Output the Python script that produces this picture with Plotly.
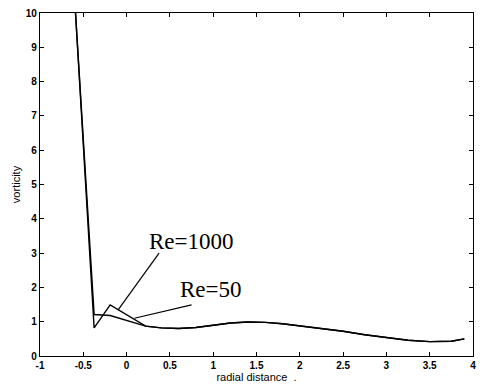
import plotly.graph_objects as go

# Data
re1000_x = [-0.59, -0.375, -0.19, 0.22, 0.4, 0.6, 0.8, 1.0, 1.2, 1.4, 1.6, 1.8, 2.0, 2.25, 2.5, 2.75, 3.0, 3.25, 3.5, 3.75, 3.9]
re1000_y = [10.0, 0.82, 1.49, 0.87, 0.82, 0.8, 0.83, 0.9, 0.96, 0.99, 0.98, 0.94, 0.88, 0.8, 0.72, 0.62, 0.53, 0.46, 0.42, 0.43, 0.5]
re50_x = [-0.59, -0.375, -0.19, 0.22, 0.4, 0.6, 0.8, 1.0, 1.2, 1.4, 1.6, 1.8, 2.0, 2.25, 2.5, 2.75, 3.0, 3.25, 3.5, 3.75, 3.9]
re50_y = [10.0, 1.21, 1.18, 0.87, 0.82, 0.8, 0.83, 0.9, 0.96, 0.99, 0.98, 0.94, 0.88, 0.8, 0.72, 0.62, 0.53, 0.46, 0.42, 0.43, 0.5]

x_tickvals = [-1, -0.5, 0, 0.5, 1, 1.5, 2, 2.5, 3, 3.5, 4]
x_ticktext = ["-1", "-0.5", "0", "0.5", "1", "1.5", "2", "2.5", "3", "3.5", "4"]
y_tickvals = [0, 1, 2, 3, 4, 5, 6, 7, 8, 9, 10]
y_ticktext = ["0", "1", "2", "3", "4", "5", "6", "7", "8", "9", "10"]

labels = ["Re=1000", "Re=50"]
label_pos = [(0.75, 3.35), (0.98, 1.95)]
leader_from = [(0.375, 3.0), (0.75, 1.49)]
leader_to = [(-0.10, 1.34), (0.09, 1.10)]

fig = go.Figure()
for xs, ys in [(re1000_x, re1000_y), (re50_x, re50_y)]:
    fig.add_trace(go.Scatter(x=xs, y=ys, mode="lines",
                             line=dict(color="black", width=1.4),
                             showlegend=False, hoverinfo="skip"))

for txt, (lx, ly), (fx, fy), (tx, ty) in zip(labels, label_pos, leader_from, leader_to):
    fig.add_annotation(x=lx, y=ly, xref="x", yref="y", text=txt, showarrow=False,
                       font=dict(family="Liberation Serif", size=23, color="black"))
    fig.add_shape(type="line", x0=fx, y0=fy, x1=tx, y1=ty, xref="x", yref="y",
                  line=dict(color="black", width=1.2))

axis_common = dict(showgrid=False, zeroline=False, showline=True, linecolor="black",
                   linewidth=1.2, mirror="ticks", ticks="inside", ticklen=4,
                   tickcolor="black", tickwidth=1,
                   tickfont=dict(family="Liberation Sans", size=10, color="black", weight="bold"))

fig.update_xaxes(range=[-1, 4], tickvals=x_tickvals, ticktext=x_ticktext,
                 title=dict(text="radial distance  .", standoff=0,
                            font=dict(family="Liberation Sans", size=11, color="black")),
                 **axis_common)
fig.update_yaxes(range=[0, 10], tickvals=y_tickvals, ticktext=y_ticktext,
                 title=dict(text="vorticity", standoff=2,
                            font=dict(family="Liberation Sans", size=11, color="black")),
                 **axis_common)

fig.update_layout(width=482, height=389, margin=dict(l=40, r=6, t=13, b=33),
                  plot_bgcolor="white", paper_bgcolor="white")

fig.write_html("out.html")
